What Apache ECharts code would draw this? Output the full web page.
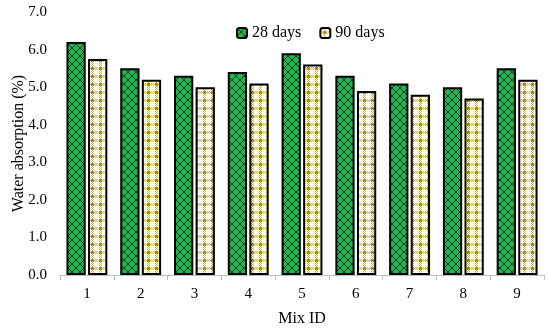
<!DOCTYPE html>
<html><head><meta charset="utf-8">
<script src="https://cdn.jsdelivr.net/npm/echarts@6/dist/echarts.min.js"></script>
<style>html,body{margin:0;padding:0;background:#fff}#c{width:550px;height:330px}</style>
</head><body><div id="c"></div>
<script>
const categories = ['1','2','3','4','5','6','7','8','9'];
const days28 = [6.2, 5.5, 5.3, 5.4, 5.9, 5.3, 5.1, 5.0, 5.5];
const days90 = [5.75, 5.2, 5.0, 5.1, 5.6, 4.9, 4.8, 4.7, 5.2];
const yTicks = [0,1,2,3,4,5,6,7];

function greenPattern(){
  const c = document.createElement('canvas'); c.width = 8; c.height = 8;
  const g = c.getContext('2d');
  g.fillStyle = '#1fb552'; g.fillRect(0,0,8,8);
  g.strokeStyle = '#0b3d1c'; g.lineWidth = 1;
  g.beginPath();
  g.moveTo(0,0); g.lineTo(8,8);
  g.moveTo(8,0); g.lineTo(0,8);
  g.stroke();
  return c;
}
function goldPattern(){
  const c = document.createElement('canvas'); c.width = 8; c.height = 8;
  const g = c.getContext('2d');
  g.fillStyle = '#ffffff'; g.fillRect(0,0,8,8);
  g.fillStyle = '#d9b04a';
  for (let y=0;y<8;y++){ for (let x=3;x<6;x++){ if ((x+y)%2===0) g.fillRect(x,y,1,1);} }
  for (let x=0;x<8;x++){ for (let y=3;y<6;y++){ if ((x+y)%2===0) g.fillRect(x,y,1,1);} }
  g.fillStyle = '#b8860b';
  g.fillRect(3,3,3,3);
  return c;
}
const gp = greenPattern(), yp = goldPattern();
const font = 'Liberation Serif';
const chart = echarts.init(document.getElementById('c'));
chart.setOption({
  animation: false,
  textStyle: {fontFamily: font},
  legend: {
    top: 20, left: 231, itemWidth: 10, itemHeight: 10, itemGap: 18,
    textStyle: {fontFamily: font, fontSize: 16, color: '#000'},
    data: ['28 days', '90 days']
  },
  grid: {left: 60, right: 6, top: 12, bottom: 55, containLabel: false, outerBoundsMode: 'none'},
  xAxis: {
    type: 'category', data: categories,
    name: 'Mix ID', nameLocation: 'middle', nameGap: 36, nameMoveOverlap: false,
    nameTextStyle: {fontFamily: font, fontSize: 16, color: '#000'},
    axisLine: {lineStyle: {color: '#bfbfbf', width: 1}},
    axisTick: {show: true, length: 5, lineStyle: {color: '#bfbfbf'}},
    axisLabel: {fontFamily: font, fontSize: 15, color: '#000', margin: 12}
  },
  yAxis: {
    type: 'value', min: 0, max: 7, interval: 1,
    name: 'Water absorption (%)', nameLocation: 'middle', nameGap: 33, nameMoveOverlap: false,
    nameTextStyle: {fontFamily: font, fontSize: 16, color: '#000'},
    axisLine: {show: false}, axisTick: {show: false},
    splitLine: {show: false},
    axisLabel: {fontFamily: font, fontSize: 15, color: '#000', margin: 13,
      formatter: v => v.toFixed(1)}
  },
  series: [
    {name: '28 days', type: 'bar', data: days28, barGap: '12%', barCategoryGap: '24%',
      itemStyle: {color: {image: gp, repeat: 'repeat'}, borderColor: '#000', borderWidth: 2}},
    {name: '90 days', type: 'bar', data: days90,
      itemStyle: {color: {image: yp, repeat: 'repeat'}, borderColor: '#000', borderWidth: 2}}
  ]
});
</script></body></html>
